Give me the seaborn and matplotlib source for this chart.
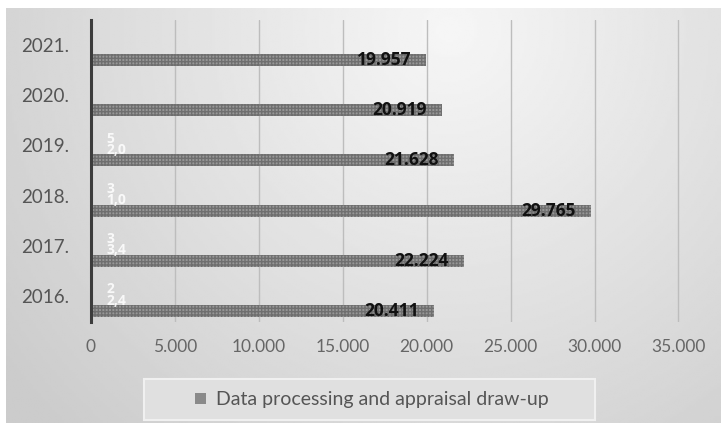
import numpy as np
import pandas as pd
import matplotlib
matplotlib.use("Agg")
import matplotlib.pyplot as plt
from matplotlib.patches import Patch, Rectangle
from matplotlib.ticker import FuncFormatter
import seaborn as sns

# Data
years = ["2021.", "2020.", "2019.", "2018.", "2017.", "2016."]
values = [19957, 20919, 21628, 29765, 22224, 20411]
aux_labels = ["", "", "5\n2,0", "3\n1,0", "3\n3,4", "2\n2,4"]
series_name = "Data processing and appraisal draw-up"
x_ticks = [0, 5000, 10000, 15000, 20000, 25000, 30000, 35000]

sns.set_theme(style="white")
plt.rcParams["font.family"] = ["Lato", "DejaVu Sans"]
plt.rcParams["hatch.linewidth"] = 1.0

W, H = 721, 424
fig = plt.figure(figsize=(W / 100, H / 100), dpi=100)
fig.patch.set_facecolor("white")

# Gradient chart-area background
bg = fig.add_axes([6 / W, 1 / H, (W - 6) / W, (423 - 8) / H])
gx, gy = np.meshgrid(np.linspace(0, 1, 300), np.linspace(0, 1, 200))
dist = np.sqrt(((gx - 0.62) / 0.75) ** 2 + ((gy - 0.05) / 1.3) ** 2)
shade = np.clip(0.965 - 0.16 * dist, 0.80, 0.97)
bg.imshow(shade, cmap="gray", vmin=0, vmax=1, aspect="auto",
          extent=[0, 1, 1, 0], interpolation="bilinear")
bg.set_axis_off()

ax = fig.add_axes([91 / W, 1 - 322 / H, (712 - 91) / W, (322 - 20) / H])
ax.set_facecolor("none")

df = pd.DataFrame({"year": years, "value": values})
sns.barplot(data=df, y="year", x="value", orient="h", order=years,
            width=0.24, color="#979797", saturation=1, ax=ax, zorder=3)
for bar in ax.patches:
    bar.set_hatch("+++++")
    bar.set_edgecolor("#6f6f6f")
    bar.set_linewidth(0)

ax.set_xlim(0, 37000)
ax.set_ylim(5.22, -0.8)
ax.set_xticks(x_ticks)
ax.xaxis.set_major_formatter(
    FuncFormatter(lambda v, p: f"{int(v):,}".replace(",", ".")))
ax.set_yticks(np.arange(len(years)) - 0.3)
ax.set_yticklabels(years)
ax.tick_params(axis="y", length=0, pad=16, labelsize=13.5, labelcolor="#555555")
ax.tick_params(axis="x", length=0, pad=12, labelsize=12.5, labelcolor="#666666")
ax.set_xlabel("")
ax.set_ylabel("")

ax.grid(axis="x", color="#bdbdbd", linewidth=1.0, zorder=0)
ax.grid(axis="y", visible=False)
for s in ["top", "right", "bottom"]:
    ax.spines[s].set_visible(False)
ax.spines["left"].set_color("#3c3c3c")
ax.spines["left"].set_linewidth(2.2)
ax.spines["left"].set_zorder(5)

# Value labels at the inner end of each bar
for i, v in enumerate(values):
    ax.annotate(f"{v:,}".replace(",", "."), xy=(v, i), xytext=(-15, 0),
                textcoords="offset pixels", ha="right", va="center",
                fontsize=12.5, fontweight="bold", family="Open Sans",
                color="#111111", zorder=6)

# Faint labels of the secondary series
for i, t in enumerate(aux_labels):
    if t:
        ax.text(900, i - 0.32, t, ha="left", va="center", fontsize=10,
                fontweight="bold", family="Open Sans", color="white",
                alpha=0.85, linespacing=0.75, zorder=6)

# Legend box
fig.patches.append(Rectangle((144 / W, 1 - 420 / H), (595 - 144) / W, 41 / H,
                             transform=fig.transFigure, facecolor="#e0e0e0",
                             edgecolor="#f0f0f0", linewidth=1.5, zorder=1))
leg = fig.legend(handles=[Patch(facecolor="#8a8a8a", edgecolor="none")],
                 labels=[series_name], loc="center",
                 bbox_to_anchor=(372 / W, 1 - 400 / H),
                 frameon=False, fontsize=14, handlelength=0.55,
                 handleheight=0.55, handletextpad=0.5, labelcolor="#555555")

fig.savefig("out.png", dpi=100, facecolor=fig.get_facecolor())
